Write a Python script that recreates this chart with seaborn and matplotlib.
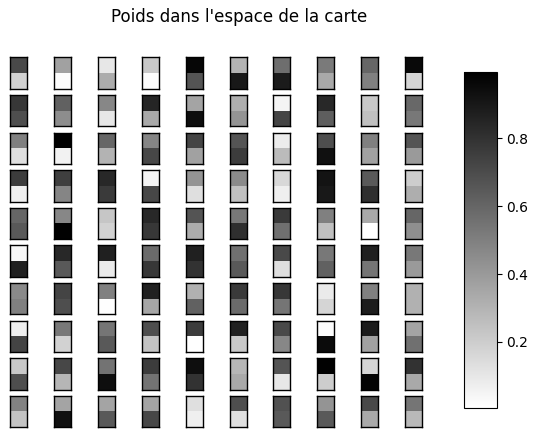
import matplotlib
matplotlib.use("Agg")
import matplotlib.pyplot as plt
import seaborn as sns
import numpy as np

# poids du neurone (composante haute / composante basse) pour chaque noeud de la carte 10x10
poids_haut = [
    [0.71, 0.37, 0.10, 0.22, 0.97, 0.30, 0.57, 0.52, 0.60, 0.96],
    [0.78, 0.62, 0.47, 0.85, 0.36, 0.32, 0.05, 0.84, 0.22, 0.59],
    [0.50, 0.99, 0.60, 0.48, 0.73, 0.67, 0.08, 0.69, 0.50, 0.67],
    [0.76, 0.75, 0.84, 0.05, 0.42, 0.46, 0.16, 0.92, 0.65, 0.20],
    [0.60, 0.47, 0.23, 0.84, 0.67, 0.53, 0.77, 0.50, 0.34, 0.60],
    [0.04, 0.84, 0.87, 0.58, 0.87, 0.56, 0.71, 0.53, 0.87, 0.53],
    [0.46, 0.73, 0.50, 0.87, 0.31, 0.77, 0.78, 0.09, 0.50, 0.31],
    [0.07, 0.53, 0.54, 0.69, 0.76, 0.87, 0.71, 0.02, 0.89, 0.36],
    [0.22, 0.72, 0.55, 0.76, 0.94, 0.29, 0.67, 0.99, 0.17, 0.80],
    [0.49, 0.36, 0.36, 0.36, 0.13, 0.69, 0.68, 0.42, 0.71, 0.54],
]
poids_bas = [
    [0.18, 0.02, 0.33, 0.02, 0.67, 0.90, 0.89, 0.34, 0.50, 0.17],
    [0.69, 0.45, 0.10, 0.34, 0.94, 0.42, 0.73, 0.63, 0.25, 0.53],
    [0.13, 0.06, 0.30, 0.72, 0.37, 0.76, 0.27, 0.93, 0.37, 0.40],
    [0.07, 0.48, 0.77, 0.72, 0.13, 0.25, 0.07, 0.90, 0.81, 0.32],
    [0.65, 0.99, 0.18, 0.78, 0.33, 0.81, 0.56, 0.25, 0.006, 0.44],
    [0.87, 0.65, 0.09, 0.78, 0.80, 0.65, 0.13, 0.62, 0.54, 0.40],
    [0.50, 0.69, 0.01, 0.35, 0.62, 0.58, 0.54, 0.17, 0.88, 0.31],
    [0.73, 0.18, 0.65, 0.24, 0.006, 0.22, 0.47, 0.95, 0.37, 0.56],
    [0.69, 0.29, 0.94, 0.55, 0.80, 0.34, 0.10, 0.20, 0.98, 0.34],
    [0.24, 0.93, 0.65, 0.72, 0.07, 0.13, 0.65, 0.65, 0.34, 0.28],
]

W, H = 537, 437
vmin, vmax = 0.006, 0.995

fig = plt.figure(figsize=(W / 100, H / 100), dpi=100)

last = None
for i in range(10):
    for j in range(10):
        x0 = 10 + j * 43.9
        y0 = 57.3 + i * 37.6
        ax = fig.add_axes([x0 / W, (H - y0 - 31.5) / H, 17 / W, 31.5 / H])
        cell = np.array([[poids_haut[i][j]], [poids_bas[i][j]]])
        sns.heatmap(cell, ax=ax, cmap="gray_r", vmin=vmin, vmax=vmax,
                    cbar=False, xticklabels=False, yticklabels=False)
        for s in ax.spines.values():
            s.set_visible(True)
            s.set_linewidth(1.0)
        last = ax

cax = fig.add_axes([464.3 / W, (H - 407.7) / H, 32.4 / W, 335.4 / H])
fig.colorbar(last.collections[0], cax=cax)

fig.suptitle("Poids dans l'espace de la carte", x=239.5 / W, y=(H - 17) / H,
             va="center", fontsize=12)

fig.savefig("out.png", dpi=100)
